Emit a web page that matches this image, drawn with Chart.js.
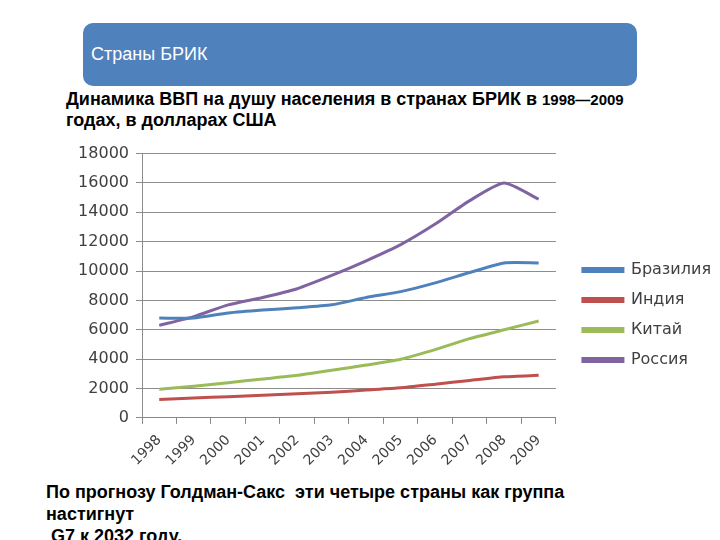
<!DOCTYPE html>
<html>
<head>
<meta charset="utf-8">
<script src="https://cdn.jsdelivr.net/npm/chart.js@4.4.0/dist/chart.umd.min.js"></script>
<style>
  body { margin: 0; width: 720px; height: 540px; background: #fff; position: relative; overflow: hidden; font-family: "Liberation Sans", Arial, sans-serif; }
  #header { position: absolute; left: 83px; top: 23px; width: 554px; height: 63px; background: #4f81bd; border-radius: 10px; }
  #header span { position: absolute; left: 8px; top: 21px; color: #fff; font-size: 18px; }
  #title { position: absolute; left: 66px; top: 89px; font-weight: bold; font-size: 18px; line-height: 21px; color: #000; }
  #title .yrs { font-size: 15px; }
  #note { position: absolute; left: 46px; top: 481px; font-weight: bold; font-size: 18px; line-height: 22px; color: #000; }
  #wrap { position: absolute; left: 60px; top: 137px; width: 660px; height: 340px; }
</style>
</head>
<body>
<div id="header"><span>Страны БРИК</span></div>
<div id="title">Динамика ВВП на душу населения в странах БРИК в <span class="yrs">1998—2009</span><br>годах, в долларах США</div>
<div id="wrap"><canvas id="myChart"></canvas></div>
<div id="note">По прогнозу Голдман-Сакс&nbsp; эти четыре страны как группа<br>настигнут<br>&nbsp;G7 к 2032 году.</div>
<script>
const years = ['1998', '1999', '2000', '2001', '2002', '2003', '2004', '2005', '2006', '2007', '2008', '2009'];
const brazil = [6800, 6800, 7150, 7350, 7500, 7700, 8200, 8600, 9200, 9900, 10550, 10550];
const india = [1250, 1350, 1450, 1550, 1650, 1750, 1900, 2050, 2300, 2550, 2800, 2900];
const china = [1950, 2150, 2400, 2650, 2900, 3250, 3600, 4000, 4650, 5400, 6000, 6600];
const russia = [6300, 6900, 7700, 8200, 8800, 9700, 10700, 11800, 13200, 14800, 16000, 14900];
const yTicks = [0, 2000, 4000, 6000, 8000, 10000, 12000, 14000, 16000, 18000];

const makeSet = (label, data, color) => ({
    label: label,
    data: data,
    borderColor: color,
    backgroundColor: color,
    borderWidth: 3,
    pointRadius: 0,
    tension: 0.2
})

const ctx = document.getElementById('myChart').getContext('2d');
const chart = new Chart(ctx, {
    type: 'line',
    data: {
        labels: years,
        datasets: [
            makeSet('Бразилия', brazil, '#4f81bd'),
            makeSet('Индия', india, '#c0504d'),
            makeSet('Китай', china, '#9bbb59'),
            makeSet('Россия', russia, '#8064a2')
        ]
    },
    options: {
        animation: false,
        responsive: true,
        maintainAspectRatio: false,
        layout: { padding: 0 },
        plugins: {
            tooltip: { enabled: false },
            legend: {
                position: 'right',
                labels: {
                    boxWidth: 40,
                    boxHeight: 3,
                    padding: 14,
                    color: '#404040',
                    font: { family: 'DejaVu Sans', size: 16 }
                }
            }
        },
        scales: {
            x: {
                offset: true,
                grid: { drawOnChartArea: false, offset: true, tickLength: 6, color: '#888' },
                border: { color: '#888' },
                ticks: {
                    minRotation: 45,
                    maxRotation: 45,
                    padding: 8,
                    color: '#404040',
                    font: { family: 'DejaVu Sans', size: 14 }
                }
            },
            y: {
                min: 0,
                max: 18000,
                afterBuildTicks: (s) => { s.ticks = yTicks.map(v => ({ value: v })) },
                afterFit: (s) => { s.width = 82 },
                grid: { color: '#8c8c8c', tickLength: 6 },
                border: { color: '#8c8c8c' },
                ticks: {
                    padding: 7,
                    color: '#404040',
                    font: { family: 'DejaVu Sans', size: 16 },
                    callback: (v) => String(v)
                }
            }
        }
    }
});

// widen the legend box so the plot ends where it does in the picture,
// and nudge the legend to its place beside the plot
const legendFit = chart.legend.fit;
chart.legend.fit = function () {
    legendFit.call(this);
    this.width += 12;
}
const legendDraw = chart.legend.draw;
chart.legend.draw = function () {
    this.ctx.save();
    this.ctx.translate(13, 8);
    legendDraw.call(this);
    this.ctx.restore();
}
chart.update();
</script>
</body>
</html>
